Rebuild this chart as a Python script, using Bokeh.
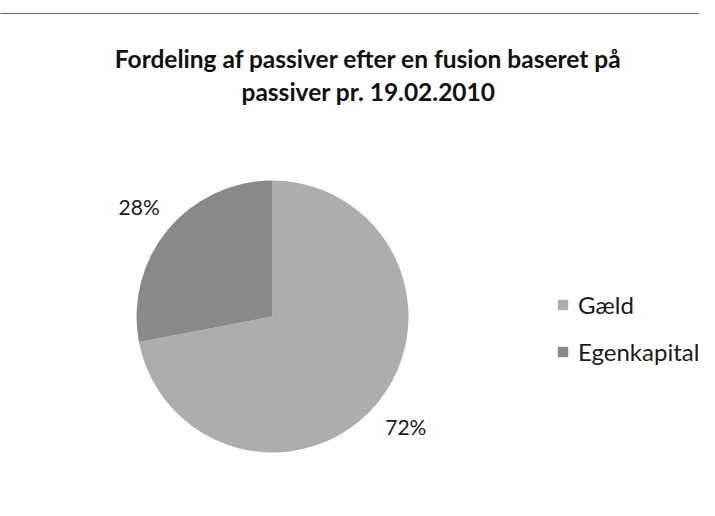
import math
from bokeh.plotting import figure
from bokeh.models import Range1d, ColumnDataSource, Legend, LegendItem, Span
from bokeh.core.properties import value
from bokeh.embed import file_html
from bokeh.resources import INLINE

title_lines = ["Fordeling af passiver efter en fusion baseret på", "passiver pr. 19.02.2010"]
categories = ["Gæld", "Egenkapital"]
shares = [72, 28]
colors = ["#adadad", "#898989"]

W, H = 699, 500
cx, cy, r = 272, 184, 136
label_r = 173

total = sum(shares)
starts, ends, mids = [], [], []
cum = 0.0
for s in shares:
    a0 = math.pi / 2 - 2 * math.pi * (cum + s) / total
    a1 = math.pi / 2 - 2 * math.pi * cum / total
    starts.append(a0)
    ends.append(a1)
    mids.append((a0 + a1) / 2)
    cum += s

src = ColumnDataSource(dict(
    cat=categories, share=shares, color=colors,
    start=starts, end=ends,
    lx=[cx + label_r * math.cos(m) for m in mids],
    ly=[cy + label_r * math.sin(m) for m in mids],
    lab=[f"{s}%" for s in shares],
))

p = figure(width=W, height=H, output_backend="svg", toolbar_location=None,
           x_range=Range1d(0, W), y_range=Range1d(0, H), min_border=0,
           outline_line_color=None, background_fill_color="white")
p.axis.visible = False
p.grid.visible = False

w = p.wedge(x=cx, y=cy, radius=r, start_angle="start", end_angle="end",
            fill_color="color", line_color=None, source=src)
p.text(x="lx", y="ly", text="lab", source=src, text_align="center",
       text_baseline="middle", text_font=value("Lato"), text_font_size="21px",
       text_color="#1a1a1a")

p.text(x=[368, 368], y=[442, 409], text=title_lines, text_align="center",
       text_baseline="alphabetic", text_font=value("Lato"), text_font_size="24.5px",
       text_font_style="bold", text_color="#111111")

p.add_layout(Span(location=487, dimension="width", line_color="#666666", line_width=1.2))

legend = Legend(items=[LegendItem(label=c, renderers=[w], index=i) for i, c in enumerate(categories)],
                location=(556, 134), orientation="vertical",
                label_text_font="Lato", label_text_font_size="24px", label_text_color="#1a1a1a",
                glyph_width=13, glyph_height=13, label_standoff=9, label_height=29,
                spacing=18, padding=0, margin=0, border_line_color=None,
                background_fill_alpha=0)
p.add_layout(legend, "center")

open("out.html", "w").write(file_html(p, INLINE))
